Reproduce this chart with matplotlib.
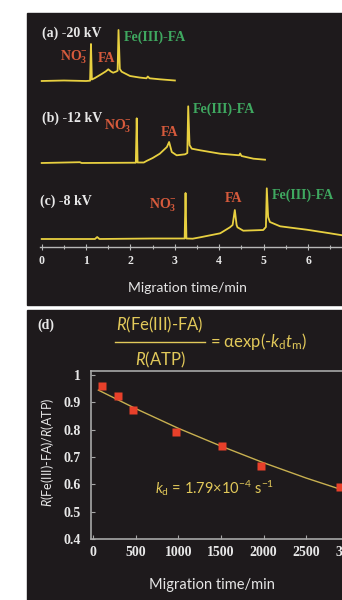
import matplotlib
matplotlib.use("Agg")
import matplotlib.pyplot as plt
from matplotlib.patches import Rectangle
from matplotlib.ticker import MultipleLocator

# electropherograms: migration time (min) and signal above baseline (a.u.)
t_a = [0.0, 0.5, 1.0, 1.09, 1.11, 1.13, 1.2, 1.35, 1.44, 1.50, 1.56, 1.61, 1.68, 1.71, 1.73, 1.76, 1.80, 1.99, 2.2, 2.36, 2.39, 2.43, 2.66, 3.0]
s_a = [0, 0.5, 0, 0.3, 37, 1.5, 3.0, 7.0, 9.5, 11.7, 9.5, 8.3, 9.5, 10.3, 51, 12, 9.3, 5.0, 3.5, 2.7, 4.5, 2.7, 1.7, 0.5]

t_b = [0.0, 0.86, 0.9, 2.12, 2.14, 2.16, 2.3, 2.36, 2.50, 2.66, 2.82, 2.87, 2.93, 3.04, 3.23, 3.28, 3.30, 3.33, 3.38, 3.57, 4.02, 4.45, 4.47, 4.50, 4.77, 5.03]
s_b = [0, 0.8, 0, 0.3, 44.7, 0.5, 0.5, 2.0, 5.0, 9.3, 16, 21, 11, 7.7, 8.7, 10, 56.7, 18, 14.3, 12.7, 9.3, 7.7, 9.5, 7.0, 4.3, 3.3]

t_c = [0.0, 1.2, 1.25, 1.3, 2.5, 3.22, 3.24, 3.26, 3.40, 3.57, 4.02, 4.24, 4.30, 4.35, 4.39, 4.41, 4.54, 4.99, 5.05, 5.07, 5.10, 5.14, 5.37, 5.97, 6.45, 6.8]
s_c = [0, 0, 2.0, 0, 0.5, 0.5, 46, 0.5, 0.3, 1.7, 5.7, 11.7, 14, 29, 14, 11.7, 8.3, 9.0, 12, 50.7, 22, 17, 12.7, 9.3, 6.0, 3.5]

offset_a, offset_b, offset_c = 224, 142, 66
axis_level = 58.3

# ratio vs migration time
t_m = [97, 293, 472, 976, 1516, 1965, 2900]
ratio = [0.961, 0.924, 0.872, 0.792, 0.740, 0.668, 0.592]
fit_t = [60, 500, 1000, 1500, 2000, 2500, 2950, 3100]
fit_r = [0.945, 0.877, 0.805, 0.740, 0.679, 0.623, 0.577, 0.562]

W, H = 342, 600
def fx(x):
    return x / W
def fy(y):
    return 1 - y / H

plt.rcParams["mathtext.fontset"] = "custom"
plt.rcParams["mathtext.rm"] = "Lato"
plt.rcParams["mathtext.it"] = "Lato:italic"
plt.rcParams["mathtext.bf"] = "Liberation Serif:bold"

bg = "#1e1a1c"
yellow = "#e8d040"
red = "#d65a3c"
green = "#3fa860"
grey = "#b8b8b8"
txt_y = "#e2c95a"
serif = dict(family="Liberation Serif", weight="bold")
sans = "Lato"
no3 = "$\\mathbf{NO_3^{-}}$"

fig = plt.figure(figsize=(W / 100, H / 100), dpi=100, facecolor="white")
fig.add_artist(Rectangle((fx(27), fy(305)), 315 / W, 292 / H, transform=fig.transFigure, color=bg, zorder=0))
fig.add_artist(Rectangle((fx(27), 0), 315 / W, 290 / H, transform=fig.transFigure, color=bg, zorder=0))

# ---- top panel
ax1 = fig.add_axes([fx(27), fy(305), 315 / W, 292 / H])
ax1.set_facecolor("none")
ax1.set_xlim(-0.331, 6.764)
ax1.set_ylim(0, 292)
for t, s, off in [(t_a, s_a, offset_a), (t_b, s_b, offset_b), (t_c, s_c, offset_c)]:
    ax1.plot(t, [v + off for v in s], color=yellow, lw=1.3, solid_joinstyle="round")

for side in ["top", "right", "left"]:
    ax1.spines[side].set_visible(False)
ax1.spines["bottom"].set_position(("data", axis_level))
ax1.spines["bottom"].set_bounds(-0.04, 6.8)
ax1.spines["bottom"].set_color(grey)
ax1.spines["bottom"].set_linewidth(1.0)
ax1.set_yticks([])
ax1.xaxis.set_major_locator(MultipleLocator(1))
ax1.xaxis.set_minor_locator(MultipleLocator(0.5))
ax1.set_xticks(range(0, 7))
ax1.tick_params(axis="x", which="both", direction="inout", length=4, color=grey, width=0.8, pad=4)
ax1.tick_params(axis="x", which="minor", length=3)
for lab in ax1.get_xticklabels():
    lab.set_color("#e8e8e8")
    lab.set_fontsize(8.5)
    lab.set_fontfamily("Liberation Serif")
    lab.set_fontweight("bold")

fs = 10
ax1.text(0.01, 272, "(a) -20 kV", color="#e8e8e8", fontsize=fs, va="center", **serif)
ax1.text(0.73, 248, no3, color=red, fontsize=fs, ha="center", va="center")
ax1.text(1.46, 246, "FA", color=red, fontsize=fs, ha="center", va="center", **serif)
ax1.text(1.85, 268, "Fe(III)-FA", color=green, fontsize=fs, va="center", **serif)

ax1.text(0.01, 187, "(b) -12 kV", color="#e8e8e8", fontsize=fs, va="center", **serif)
ax1.text(1.72, 179, no3, color=red, fontsize=fs, ha="center", va="center")
ax1.text(2.87, 173, "FA", color=red, fontsize=fs, ha="center", va="center", **serif)
ax1.text(3.41, 196, "Fe(III)-FA", color=green, fontsize=fs, va="center", **serif)

ax1.text(-0.04, 104, "(c) -8 kV", color="#e8e8e8", fontsize=fs, va="center", **serif)
ax1.text(2.74, 100, no3, color=red, fontsize=fs, ha="center", va="center")
ax1.text(4.33, 107, "FA", color=red, fontsize=fs, ha="center", va="center", **serif)
ax1.text(5.19, 110, "Fe(III)-FA", color=green, fontsize=fs, va="center", **serif)

fig.text(fx(187), fy(288), "Migration time/min", color="#e6e6e6", fontsize=10, family=sans, ha="center", va="center")

# ---- bottom panel
ax2 = fig.add_axes([fx(90.7), fy(539), (355.7 - 90.7) / W, (539 - 371) / H])
ax2.set_facecolor("none")
ax2.set_xlim(-30, 3080)
ax2.set_ylim(0.4, 1.015)
ax2.plot(fit_t, fit_r, color="#c8b050", lw=1.0, zorder=2)
ax2.plot(t_m, ratio, "s", color="#e8402a", ms=6, mec="none", zorder=3, clip_on=False)
ax2.spines["right"].set_visible(False)
for side in ["top", "left", "bottom"]:
    ax2.spines[side].set_color("#a8a8a8")
    ax2.spines[side].set_linewidth(1.2)
ax2.set_xticks([0, 500, 1000, 1500, 2000, 2500, 3000])
ax2.set_yticks([0.4, 0.5, 0.6, 0.7, 0.8, 0.9, 1.0])
ax2.set_yticklabels(["0.4", "0.5", "0.6", "0.7", "0.8", "0.9", "1"])
ax2.tick_params(direction="in", length=3, color="#a8a8a8", width=0.8)
ax2.tick_params(axis="y", pad=7)
ax2.tick_params(axis="x", pad=5)
for lab in ax2.get_xticklabels() + ax2.get_yticklabels():
    lab.set_color("#e8e8e8")
    lab.set_fontsize(10)
    lab.set_fontfamily("Liberation Serif")
    lab.set_fontweight("bold")

fig.text(fx(46), fy(325), "(d)", color="#e8e8e8", fontsize=10, ha="center", va="center", **serif)
fig.text(fx(160), fy(325), "$\\it{R}$(Fe(III)-FA)", color=txt_y, fontsize=12, family=sans, ha="center", va="center")
fig.add_artist(plt.Line2D([fx(115), fx(205)], [fy(342), fy(342)], color=txt_y, lw=1.0, transform=fig.transFigure))
fig.text(fx(160), fy(360), "$\\it{R}$(ATP)", color=txt_y, fontsize=12, family=sans, ha="center", va="center")
fig.text(fx(210), fy(342), "= $\\mathrm{\\alpha}$exp(-$\\it{k}_{\\rm{d}}\\it{t}_{\\rm{m}}$)", color=txt_y, fontsize=12, family=sans, ha="left", va="center")
fig.text(fx(155), fy(488), "$\\it{k}_{\\rm{d}}$ = 1.79×10$^{-4}$ s$^{-1}$", color=txt_y, fontsize=10.5, family=sans, ha="left", va="center")
fig.text(fx(48), fy(452), "$\\it{R}$(Fe(III)-FA)/$\\it{R}$(ATP)", color="#e6e6e6", fontsize=9, family=sans, rotation=90, ha="center", va="center")
fig.text(fx(212), fy(585), "Migration time/min", color="#e6e6e6", fontsize=10.5, family=sans, ha="center", va="center")

fig.savefig("out.png", dpi=100, facecolor="white")
